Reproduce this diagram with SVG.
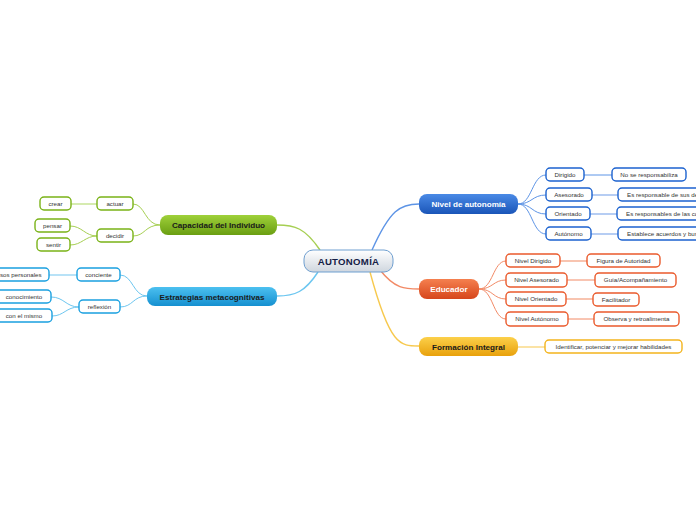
<svg xmlns="http://www.w3.org/2000/svg" width="696" height="520" viewBox="0 0 696 520">
<defs>
<linearGradient id="gC" x1="0" y1="0" x2="0" y2="1"><stop offset="0" stop-color="#ffffff"/><stop offset="1" stop-color="#cfd6de"/></linearGradient>
<linearGradient id="gG" x1="0" y1="0" x2="0" y2="1"><stop offset="0" stop-color="#9fd13a"/><stop offset="1" stop-color="#6a9e12"/></linearGradient>
<linearGradient id="gB" x1="0" y1="0" x2="0" y2="1"><stop offset="0" stop-color="#4cc0f0"/><stop offset="1" stop-color="#1590d0"/></linearGradient>
<linearGradient id="gD" x1="0" y1="0" x2="0" y2="1"><stop offset="0" stop-color="#4a8ae6"/><stop offset="1" stop-color="#1a55b8"/></linearGradient>
<linearGradient id="gO" x1="0" y1="0" x2="0" y2="1"><stop offset="0" stop-color="#f5804f"/><stop offset="1" stop-color="#d6461c"/></linearGradient>
<linearGradient id="gY" x1="0" y1="0" x2="0" y2="1"><stop offset="0" stop-color="#fcd04a"/><stop offset="1" stop-color="#e8a10c"/></linearGradient>
</defs>
<style>
text{font-family:"Liberation Sans",Arial,sans-serif;}
.m{font-size:8.1px;font-weight:bold;text-anchor:middle;}
.l{font-size:6.2px;fill:#333;text-anchor:middle;}
.lf{fill:#fff;stroke-width:1.4;}
.g{stroke:#7ab317;} .b{stroke:#1aa0e0;} .d{stroke:#1c62cf;} .o{stroke:#ea5a2c;} .y{stroke:#f3b41d;}
.c{fill:none;stroke-width:1;}
.t{stroke-width:1.4;}
.cg{stroke:#a6cf52;} .cb{stroke:#6cc6f0;} .cd{stroke:#5d94e6;} .co{stroke:#f28a66;} .cy{stroke:#f7c94e;}
.s{fill:none;stroke-width:2;}
.sg{stroke:#d6ebb0;} .sb{stroke:#b8e2f7;} .sd{stroke:#b6cdf3;} .so{stroke:#f8c4b0;} .sy{stroke:#fbe3a5;}
</style>
<g id="connectors">
<path class="c t cg" d="M320,250 C305,228 295,225 277,225"/>
<path class="c t cb" d="M318,272 C305,292 295,296 277,296"/>
<path class="c t cd" d="M372,250 C390,210 400,204 419,204"/>
<path class="c t co" d="M380,270 C395,289 405,289 419,289"/>
<path class="c t cy" d="M370,272 C390,346 400,346 419,346"/>
<path class="c cg" d="M160,225 C145,225 145,204 133,204"/>
<path class="c cg" d="M160,225 C145,225 145,236 133,236"/>
<path class="s sg" d="M97,204 L71,204"/>
<path class="c cg" d="M97,236 C85,236 82,226 70,226"/>
<path class="c cg" d="M97,236 C85,236 82,245 70,245"/>
<path class="c cb" d="M147,296 C133,296 133,275 120,275"/>
<path class="c cb" d="M147,296 C133,296 133,307 120,307"/>
<path class="s sb" d="M77,275 L49,275"/>
<path class="c cb" d="M79,307 C66,307 64,297 51,297"/>
<path class="c cb" d="M79,307 C66,307 64,316 52,316"/>
<path class="c cd" d="M518,204 C532,204 532,175 546,175"/>
<path class="c cd" d="M518,204 C532,204 532,195 546,195"/>
<path class="c cd" d="M518,204 C532,204 532,214 546,214"/>
<path class="c cd" d="M518,204 C532,204 532,234 546,234"/>
<path class="c cd" d="M584,175 L612,175"/>
<path class="s sd" d="M592,195 L618,195"/>
<path class="s sd" d="M590,214 L617,214"/>
<path class="s sd" d="M591,234 L618,234"/>
<path class="c co" d="M479,289 C493,289 493,261 506,261"/>
<path class="c co" d="M479,289 C493,289 493,280 506,280"/>
<path class="c co" d="M479,289 C493,289 493,299 506,299"/>
<path class="c co" d="M479,289 C493,289 493,319 506,319"/>
<path class="s so" d="M560,261 L587,261"/>
<path class="c co" d="M567,280 L595,280"/>
<path class="s so" d="M566,299 L593,299"/>
<path class="c co" d="M568,319 L594,319"/>
<path class="s sy" d="M518,347 L545,347"/>
</g>
<g id="autonomia"><rect x="304" y="250" width="89" height="22" rx="9" fill="url(#gC)" stroke="#6f9fd0" stroke-width="1"/><text x="348.5" y="264.8" class="m" fill="#142046" style="font-size:9.6px;letter-spacing:0.3px">AUTONOMÍA</text></g>
<g id="capacidad"><rect x="160" y="215" width="117" height="20" rx="8" fill="url(#gG)"/><text x="218.5" y="228" class="m" fill="#1a1a1a">Capacidad del Individuo</text></g>
<g id="estrategias"><rect x="147" y="287" width="130" height="19" rx="8" fill="url(#gB)"/><text x="212" y="299.5" class="m" fill="#1a1a1a">Estrategias metacognitivas</text></g>
<g id="nivel"><rect x="419" y="194" width="99" height="20" rx="8" fill="url(#gD)"/><text x="468.5" y="207" class="m" fill="#fff">Nivel de autonomía</text></g>
<g id="educador"><rect x="419" y="279" width="60" height="20" rx="8" fill="url(#gO)"/><text x="449" y="292" class="m" fill="#fff">Educador</text></g>
<g id="formacion"><rect x="419" y="337" width="99" height="19" rx="8" fill="url(#gY)"/><text x="468.5" y="349.5" class="m" fill="#1a1a1a">Formación Integral</text></g>
<g id="actuar"><rect class="lf g" x="97" y="197" width="36" height="13" rx="4"/><text class="l" x="115" y="205.8">actuar</text></g>
<g id="crear"><rect class="lf g" x="40" y="197" width="31" height="13" rx="4"/><text class="l" x="55.5" y="205.8">crear</text></g>
<g id="decidir"><rect class="lf g" x="97" y="229" width="36" height="13" rx="4"/><text class="l" x="115" y="237.8">decidir</text></g>
<g id="pensar"><rect class="lf g" x="35" y="219" width="35" height="13" rx="4"/><text class="l" x="52.5" y="227.8">pensar</text></g>
<g id="sentir"><rect class="lf g" x="37" y="238" width="33" height="13" rx="4"/><text class="l" x="53.5" y="246.8">sentir</text></g>
<g id="conciente"><rect class="lf b" x="77" y="268" width="43" height="13" rx="4"/><text class="l" x="98.5" y="276.8">conciente</text></g>
<g id="procesos"><rect class="lf b" x="-20" y="268" width="69" height="13" rx="4"/><text class="l" x="0" y="276.8" style="text-anchor:start">sos personales</text></g>
<g id="reflexion"><rect class="lf b" x="79" y="300" width="41" height="13" rx="4"/><text class="l" x="99.5" y="308.8">reflexión</text></g>
<g id="conocimiento"><rect class="lf b" x="-6" y="290" width="57" height="13" rx="4"/><text class="l" x="24" y="298.8">conocimiento</text></g>
<g id="conelmismo"><rect class="lf b" x="-6" y="309" width="58" height="13" rx="4"/><text class="l" x="24" y="317.8">con el mismo</text></g>
<g id="dirigido"><rect class="lf d" x="546" y="168" width="38" height="13" rx="4"/><text class="l" x="565" y="176.8">Dirigido</text></g>
<g id="asesorado"><rect class="lf d" x="546" y="188" width="46" height="13" rx="4"/><text class="l" x="569" y="196.8">Asesorado</text></g>
<g id="orientado"><rect class="lf d" x="546" y="207" width="44" height="13" rx="4"/><text class="l" x="568" y="215.8">Orientado</text></g>
<g id="autonomo"><rect class="lf d" x="546" y="227" width="45" height="13" rx="4"/><text class="l" x="568.5" y="235.8">Autónomo</text></g>
<g id="noseresp"><rect class="lf d" x="612" y="168" width="74" height="13" rx="4"/><text class="l" x="649" y="176.8">No se responsabiliza</text></g>
<g id="esresp1"><rect class="lf d" x="618" y="188" width="100" height="13" rx="4"/><text class="l" x="627" y="196.8" style="text-anchor:start">Es responsable de sus de</text></g>
<g id="esresp2"><rect class="lf d" x="617" y="207" width="100" height="13" rx="4"/><text class="l" x="626" y="215.8" style="text-anchor:start">Es responsables de las co</text></g>
<g id="establece"><rect class="lf d" x="618" y="227" width="100" height="13" rx="4"/><text class="l" x="627" y="235.8" style="text-anchor:start">Establece acuerdos y bus</text></g>
<g id="ndirigido"><rect class="lf o" x="506" y="254" width="54" height="13" rx="4"/><text class="l" x="533" y="262.8">Nivel Dirigido</text></g>
<g id="nasesorado"><rect class="lf o" x="506" y="273" width="61" height="14" rx="4"/><text class="l" x="536.5" y="282.3">Nivel Asesorado</text></g>
<g id="norientado"><rect class="lf o" x="506" y="292" width="60" height="14" rx="4"/><text class="l" x="536" y="301.3">Nivel Orientado</text></g>
<g id="nautonomo"><rect class="lf o" x="506" y="312" width="62" height="14" rx="4"/><text class="l" x="537" y="321.3">Nivel Autónomo</text></g>
<g id="figura"><rect class="lf o" x="587" y="254" width="73" height="13" rx="4"/><text class="l" x="623.5" y="262.8">Figura de Autoridad</text></g>
<g id="guia"><rect class="lf o" x="595" y="273" width="81" height="14" rx="4"/><text class="l" x="635.5" y="282.3">Guía/Acompañamiento</text></g>
<g id="facilitador"><rect class="lf o" x="593" y="293" width="46" height="13" rx="4"/><text class="l" x="616" y="301.8">Facilitador</text></g>
<g id="observa"><rect class="lf o" x="594" y="312" width="85" height="14" rx="4"/><text class="l" x="636.5" y="321.3">Observa y retroalimenta</text></g>
<g id="identificar"><rect class="lf y" x="545" y="340" width="137" height="13" rx="4"/><text class="l" x="613.5" y="348.8">Identificar, potenciar y mejorar habilidades</text></g>
</svg>
